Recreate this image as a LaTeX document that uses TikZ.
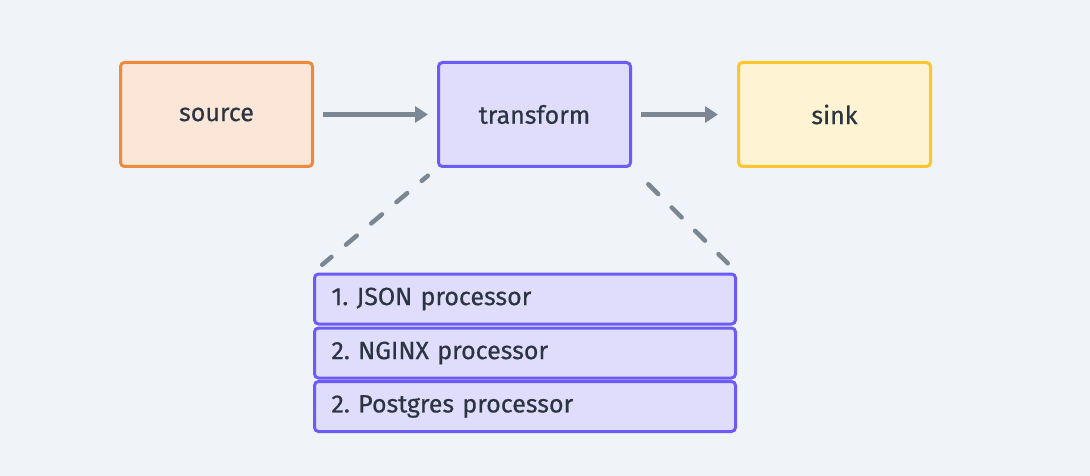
\documentclass[tikz,border=0pt]{standalone}
\usepackage{fontspec}
\setmainfont{Fira Sans}[FakeBold=0.5]
\usetikzlibrary{arrows.meta}

\definecolor{bg}{HTML}{F0F4F8}
\definecolor{ink}{HTML}{2A3541}
\definecolor{wire}{HTML}{7B8894}
\definecolor{srcline}{HTML}{ED8A3C}
\definecolor{srcfill}{HTML}{FCE6D8}
\definecolor{xfline}{HTML}{6C5CF5}
\definecolor{xffill}{HTML}{E0DCFC}
\definecolor{snkline}{HTML}{FBC62E}
\definecolor{snkfill}{HTML}{FEF3D3}

\begin{document}
\begin{tikzpicture}
  [x=1pt,y=-1pt,
   stage/.style={rectangle,rounded corners=4pt,line width=3pt,
     minimum width=192pt,minimum height=104pt,text=ink,
     font=\fontsize{25}{30}\selectfont},
   proc/.style={stage,draw=xfline,fill=xffill,minimum width=421pt,
     minimum height=50pt,text width=387pt,inner xsep=17pt,align=left},
   flow/.style={draw=wire,line width=5pt,-{Triangle[length=13pt,width=16pt]}},
   zoomline/.style={draw=wire,line width=4.5pt,line cap=round,
     dash pattern=on 14pt off 19pt}]
  \fill[bg] (0,0) rectangle (1090,476);

  \node[stage,draw=srcline,fill=srcfill] (src) at (216.5,114.5) {source};
  \node[stage,draw=xfline,fill=xffill]   (xf)  at (534.5,114.5) {transform};
  \node[stage,draw=snkline,fill=snkfill] (snk) at (834.5,114.5) {sink};

  \node[proc] (p1) at (525,299)   {1.\ JSON processor};
  \node[proc] (p2) at (525,353)   {2.\ NGINX processor};
  \node[proc] (p3) at (525,406.5) {2.\ Postgres processor};

  \draw[flow,shorten <=9pt,shorten >=9pt]  (src) -- (xf);
  \draw[flow,shorten <=9pt,shorten >=19pt] (xf) -- (snk);

  \draw[zoomline,dash phase=6pt,shorten <=12pt,shorten >=12pt] (xf.south west) -- (p1.north west);
  \draw[zoomline,shorten <=23pt,shorten >=13pt] (xf.south east) -- (p1.north east);

\end{tikzpicture}
\end{document}
